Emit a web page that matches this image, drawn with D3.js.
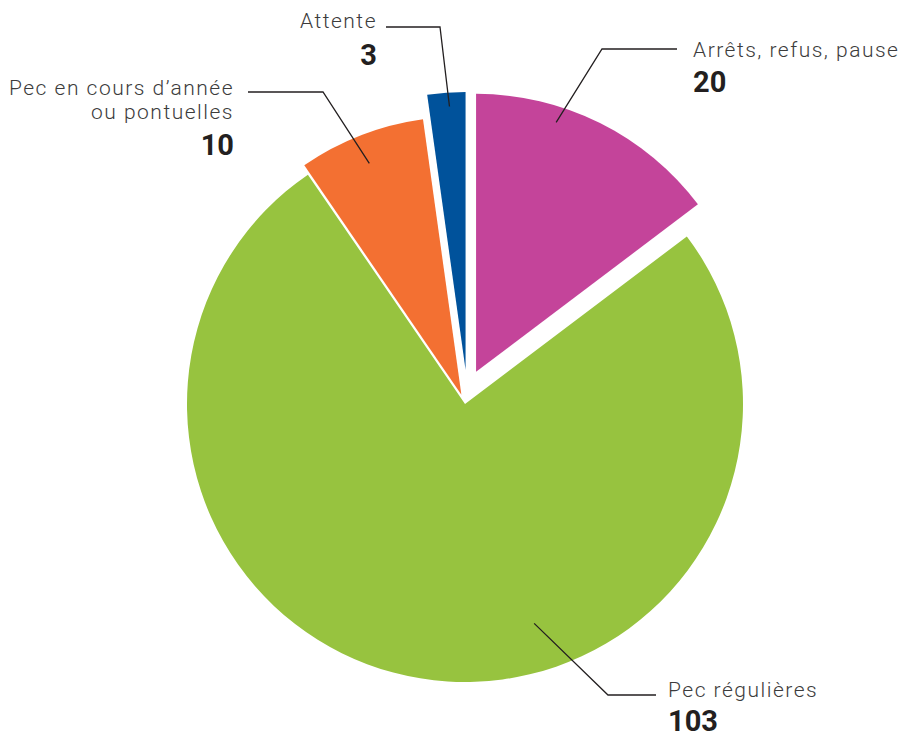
<!DOCTYPE html>
<html>
<head>
<meta charset="utf-8">
<script src="https://cdn.jsdelivr.net/npm/d3@7"></script>
<style>
    body { margin: 0; background: #fff; }
    .label { font-family: Roboto, "DejaVu Sans", sans-serif; font-size: 21px; font-weight: 300; letter-spacing: 1.5px; fill: #3c3c3c; }
    .value { font-family: Roboto, "DejaVu Sans", sans-serif; font-size: 29px; font-weight: bold; fill: #231f20; }
</style>
</head>
<body>
<script>
// Data
const categories = ["Arrêts, refus, pause", "Pec régulières", "Pec en cours d’année|ou pontuelles", "Attente"];
const values = [20, 103, 10, 3];
const colors = ["#c4449a", "#97c33f", "#f37032", "#00529b"];

const width = 902;
const height = 736;
const cx = 465, cy = 404;
const radius = 278;

// explode distance and direction (deg, null = bisector) for each slice (layout only)
const explode = [34, 0, 10, 34];
const explodeDir = [19, null, null, 1];

// leader line layout: start on slice (angle deg, radius), elbow, end, text anchor
const leaders = [
    { a: 17.8, r: 262, elbow: [602, 49], end: [677, 49], tx: 693, ty: 57, anchor: "start", vy: 92 },
    { a: 162.5, r: 230, elbow: [608, 695], end: [656, 695], tx: 668, ty: 697, anchor: "start", vy: 731 },
    { a: 338.3, r: 249, elbow: [323, 92], end: [248, 92], tx: 234, ty: 95, anchor: "end", vy: 155 },
    { a: 356.5, r: 264, elbow: [440, 27], end: [386, 27], tx: 377, ty: 28, anchor: "end", vy: 65 }
];

const svg = d3.select("body").append("svg")
    .attr("width", width)
    .attr("height", height);

const data = categories.map((c, i) => ({ name: c, value: values[i], color: colors[i], i }));

const pie = d3.pie().sort(null).value(d => d.value);
const arc = d3.arc().innerRadius(0).outerRadius(radius);
const arcs = pie(data);

function offset(d) {
    const dir = explodeDir[d.data.i];
    const mid = dir == null ? (d.startAngle + d.endAngle) / 2 : dir * Math.PI / 180;
    const e = explode[d.data.i];
    return [Math.sin(mid) * e, -Math.cos(mid) * e];
}

// Slices
svg.append("g")
    .attr("transform", `translate(${cx},${cy})`)
    .selectAll("path")
    .data(arcs)
    .join("path")
    .attr("d", arc)
    .attr("fill", d => d.data.color)
    .attr("transform", d => `translate(${offset(d)})`);

// Leader lines and labels
const lab = svg.append("g");
arcs.forEach(d => {
    const L = leaders[d.data.i];
    const o = offset(d);
    const a = L.a * Math.PI / 180;
    const sx = cx + o[0] + Math.sin(a) * L.r;
    const sy = cy + o[1] - Math.cos(a) * L.r;

    lab.append("polyline")
        .attr("points", [[sx, sy], L.elbow, L.end].map(p => p.join(",")).join(" "))
        .attr("fill", "none")
        .attr("stroke", "#231f20")
        .attr("stroke-width", 1.3);

    const lines = d.data.name.split("|");
    const t = lab.append("text")
        .attr("class", "label")
        .attr("text-anchor", L.anchor);
    lines.forEach((s, k) => {
        t.append("tspan")
            .attr("x", L.tx)
            .attr("y", L.ty + k * 24)
            .text(s);
    });

    lab.append("text")
        .attr("class", "value")
        .attr("text-anchor", L.anchor)
        .attr("x", L.tx)
        .attr("y", L.vy)
        .text(d.data.value);
});
</script>
</body>
</html>
